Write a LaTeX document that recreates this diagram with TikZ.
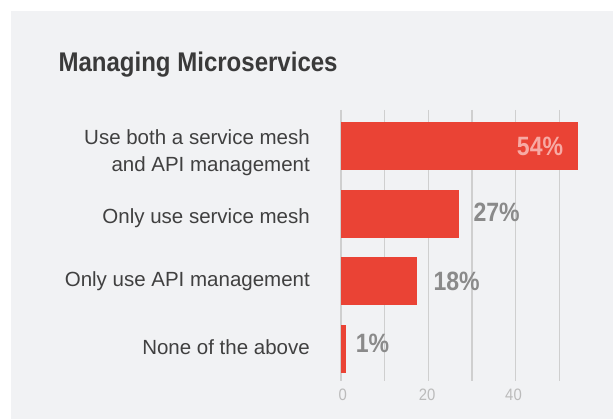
\documentclass[tikz,border=0pt]{standalone}
\usepackage{fontspec}
\setmainfont{Liberation Sans}
\usepackage{graphicx}
\definecolor{panel}{HTML}{F1F2F4}
\definecolor{barred}{HTML}{EA4335}
\definecolor{grid}{HTML}{CFCFCF}
\definecolor{labtxt}{HTML}{404040}
\definecolor{titletxt}{HTML}{3A3A3A}
\definecolor{pcttxt}{HTML}{8A8A8A}
\definecolor{pctin}{HTML}{F7AAA4}
\definecolor{axtxt}{HTML}{BBBBBB}
\tikzset{
  cat/.style={anchor=base east, inner sep=0pt, text=labtxt, font=\fontsize{20.5}{24}\selectfont},
  pct/.style={anchor=base west, inner sep=0pt, text=pcttxt, font=\fontsize{26.5}{30}\selectfont\bfseries},
  axl/.style={anchor=base, inner sep=0pt, text=axtxt, font=\fontsize{16.5}{19}\selectfont},
  bar/.style={fill=barred},
  gridline/.style={draw=grid, line width=1.3pt}
}
\newcommand{\narrow}[1]{\scalebox{0.87}[1]{#1}}
\begin{document}
\begin{tikzpicture}[x=1pt,y=-1pt]
\useasboundingbox (0,0) rectangle (613,419);
\fill[white] (0,0) rectangle (613,419);
\fill[panel] (11,11) rectangle (613,419);
% title
\node[anchor=base west, inner sep=0pt, text=titletxt, font=\fontsize{27}{30}\selectfont\bfseries] (title) at (58.3,71.7) {\scalebox{0.89}[1]{Managing Microservices}};
% gridlines
\foreach \i in {0,...,5} {
  \coordinate (gt\i) at (341+43.7*\i,110);
  \coordinate (gb\i) at (341+43.7*\i,381.5);
  \draw[gridline] (gt\i) -- (gb\i);
}
% bars
\fill[bar] (341,122) rectangle (578,169.7);
\fill[bar] (341,190) rectangle (459,237.7);
\fill[bar] (341,257) rectangle (417,304.7);
\fill[bar] (341,325) rectangle (345.5,372.7);
% category labels
\node[cat] (c1a) at (310,144.3) {Use both a service mesh};
\node[cat] (c1b) at (310,171.2) {and API management};
\node[cat] (c2) at (310,223.3) {Only use service mesh};
\node[cat] (c3) at (310,286.7) {Only use API management};
\node[cat] (c4) at (310,355) {None of the above};
% percentages
\node[pct, anchor=base east, text=pctin] (p1) at (563.3,155.7) {\narrow{54\%}};
\node[pct] (p2) at (473.3,221.7) {\narrow{27\%}};
\node[pct] (p3) at (433.3,290.7) {\narrow{18\%}};
\node[pct] (p4) at (355.7,352.3) {\narrow{1\%}};
% axis labels
\node[axl] (a0) at (342.8,400.7) {\scalebox{0.9}[1]{0}};
\node[axl] (a20) at (427.2,400.7) {\scalebox{0.9}[1]{20}};
\node[axl] (a40) at (513.5,400.7) {\scalebox{0.9}[1]{40}};
\end{tikzpicture}
\end{document}
